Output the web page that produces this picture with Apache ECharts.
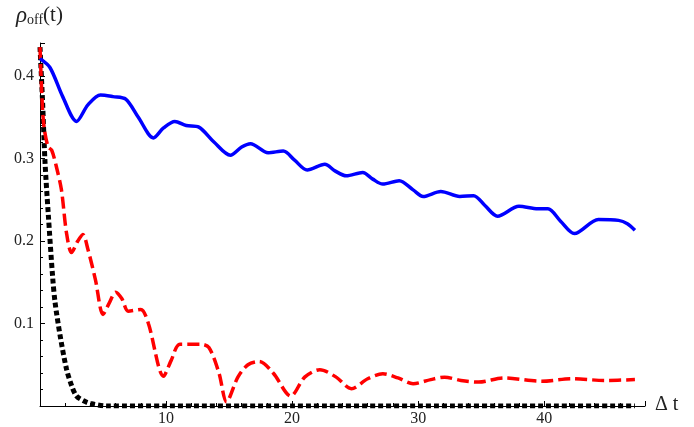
<!DOCTYPE html>
<html>
<head>
<meta charset="utf-8">
<script src="https://cdn.jsdelivr.net/npm/echarts@6/dist/echarts.min.js"></script>
<style>
  html, body { margin: 0; padding: 0; background: #fff; }
  #chart { width: 694px; height: 427px; }
</style>
</head>
<body>
<div id="chart"></div>
<script>
// --- données --- //
const blueX = [0, 0.8, 1.8, 2.9, 3.8, 4.8, 5.8, 6.8, 7.8, 9.0, 9.8, 10.7, 11.6, 12.6, 13.8, 15.1, 16.0, 16.7, 18.1, 19.3, 20.2, 21.2, 22.6, 23.4, 24.3, 25.6, 26.4, 27.2, 28.5, 29.6, 30.4, 31.8, 33.3, 34.4, 35.3, 36.3, 38.0, 39.5, 40.3, 41.3, 42.4, 44.3, 45.9, 46.6, 47.2];
const blueY = [0.421, 0.41, 0.375, 0.345, 0.365, 0.377, 0.375, 0.372, 0.35, 0.325, 0.337, 0.345, 0.34, 0.338, 0.32, 0.304, 0.314, 0.318, 0.307, 0.309, 0.298, 0.286, 0.293, 0.285, 0.279, 0.283, 0.275, 0.269, 0.273, 0.262, 0.254, 0.260, 0.254, 0.255, 0.243, 0.230, 0.242, 0.239, 0.239, 0.224, 0.209, 0.226, 0.225, 0.221, 0.213];

const redX = [0, 0.2, 0.35, 0.65, 0.93, 1.3, 1.7, 2.1, 2.5, 3.0, 3.4, 3.8, 4.4, 5.0, 5.5, 6.0, 6.5, 7.0, 8.0, 8.6, 9.8, 10.4, 11.1, 12.7, 13.4, 14.2, 14.8, 15.7, 16.5, 17.4, 18.5, 19.9, 21.0, 22.2, 23.5, 24.7, 26.0, 27.2, 28.4, 29.6, 31.0, 32.1, 33.4, 34.8, 36.8, 39.8, 42.2, 44.8, 47.2];
const redY = [0.435, 0.36, 0.335, 0.314, 0.31, 0.29, 0.262, 0.21, 0.186, 0.2, 0.208, 0.19, 0.153, 0.111, 0.125, 0.138, 0.13, 0.115, 0.117, 0.1, 0.036, 0.055, 0.075, 0.075, 0.071, 0.04, 0.005, 0.035, 0.05, 0.054, 0.04, 0.012, 0.035, 0.044, 0.035, 0.021, 0.033, 0.039, 0.034, 0.027, 0.032, 0.035, 0.031, 0.029, 0.034, 0.030, 0.033, 0.031, 0.032];

const blackX = [0, 0.2, 0.4, 0.65, 1.0, 1.2, 1.6, 2.1, 2.5, 2.9, 3.5, 4.0, 5.3, 10, 20, 30, 40, 47.2];
const blackY = [0.435, 0.37, 0.295, 0.234, 0.157, 0.125, 0.085, 0.045, 0.025, 0.012, 0.006, 0.003, 0.0, 0, 0, 0, 0, 0];

function pairs(xs, ys) {
  return xs.map((x, i) => [x, ys[i]]);
}

const serif = 'Liberation Serif';

let option = {
  animation: false,
  grid: { left: 40, right: 49, top: 43, bottom: 20, containLabel: false },
  xAxis: {
    type: 'value',
    min: 0,
    max: 48,
    interval: 10,
    axisLine: { lineStyle: { color: '#000', width: 1 } },
    axisTick: { inside: true, length: 5, lineStyle: { color: '#000' } },
    minorTick: { show: true, splitNumber: 5, length: 3, lineStyle: { color: '#000' } },
    splitLine: { show: false },
    axisLabel: {
      showMinLabel: false, showMaxLabel: false,
      fontFamily: serif, fontSize: 16, color: '#222', margin: 5
    }
  },
  yAxis: {
    type: 'value',
    min: 0,
    max: 0.44,
    interval: 0.1,
    axisLine: { show: true, lineStyle: { color: '#000', width: 1 } },
    axisTick: { show: true, inside: true, length: 5, lineStyle: { color: '#000' } },
    minorTick: { show: true, splitNumber: 5, length: 3, lineStyle: { color: '#000' } },
    splitLine: { show: false },
    axisLabel: {
      showMinLabel: false, showMaxLabel: false,
      fontFamily: serif, fontSize: 16, color: '#222', margin: 6
    }
  },
  series: [
    {
      type: 'line', data: pairs(blackX, blackY), smooth: 0.3, symbol: 'none',
      lineStyle: { color: '#000', width: 5, type: [5, 3], cap: 'butt' }, z: 2
    },
    {
      type: 'line', data: pairs(redX, redY), smooth: 0.3, symbol: 'none',
      lineStyle: { color: '#ff0000', width: 3.5, type: [12, 5], cap: 'butt' }, z: 3
    },
    {
      type: 'line', data: pairs(blueX, blueY), smooth: 0.3, symbol: 'none',
      lineStyle: { color: '#0000ff', width: 3.5 }, z: 4
    }
  ],
  graphic: [
    {
      type: 'text', left: 16, top: 4,
      style: {
        text: '{r|ρ}{s|off}{n|(t)}',
        rich: {
          r: { fontFamily: serif, fontStyle: 'italic', fontSize: 23, fill: '#222' },
          s: { fontFamily: serif, fontSize: 14, fill: '#222', padding: [10, 0, 0, 0] },
          n: { fontFamily: serif, fontSize: 21, fill: '#222' }
        }
      }
    },
    {
      type: 'text', left: 655, top: 395,
      style: { text: 'Δ t', fontFamily: serif, fontSize: 20, fill: '#222' }
    }
  ]
};

const chart = echarts.init(document.getElementById('chart'));
chart.setOption(option);
</script>
</body>
</html>
